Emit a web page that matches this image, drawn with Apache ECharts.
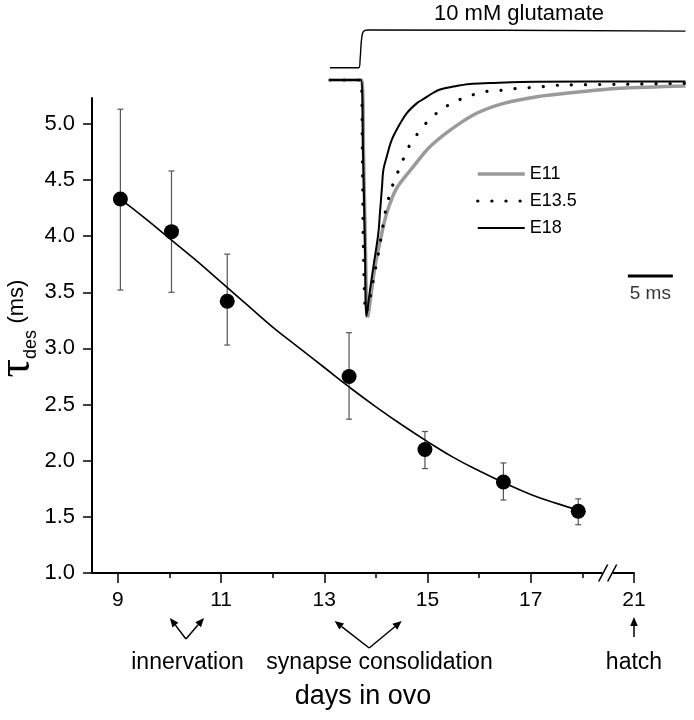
<!DOCTYPE html>
<html><head><meta charset="utf-8">
<script src="https://cdn.jsdelivr.net/npm/echarts@6/dist/echarts.min.js"></script>
<style>html,body{margin:0;padding:0;background:#fff}#c{width:694px;height:720px}</style>
</head><body><div id="c"></div>
<script>
// ---- main plot data ----
const days     = [9.05, 10.04, 11.12, 13.48, 14.95, 16.47, 17.92];
const tauMean  = [4.33, 4.04, 3.42, 2.75, 2.10, 1.81, 1.55];
const tauHigh  = [5.13, 4.58, 3.84, 3.14, 2.26, 1.98, 1.66];
const tauLow   = [3.52, 3.50, 3.03, 2.37, 1.93, 1.65, 1.43];
const fitDays  = [9.05, 9.5, 10, 10.5, 11, 11.5, 12, 12.5, 13, 13.5, 14, 14.5, 15, 15.5, 16, 16.5, 17, 17.5, 17.92];
const fitTau   = [4.33, 4.17, 3.98, 3.79, 3.59, 3.39, 3.19, 3.01, 2.83, 2.65, 2.48, 2.32, 2.17, 2.03, 1.91, 1.80, 1.70, 1.62, 1.56];
const yTicks   = [1.0, 1.5, 2.0, 2.5, 3.0, 3.5, 4.0, 4.5, 5.0];
const xMajorTicks = [9, 11, 13, 15, 17, 19];          // 19 sits after the axis break
const xTickLabels = ['9', '11', '13', '15', '17', '21'];
const xMinorTicks = [10, 12, 14, 16, 18];
const annotLabels = ['innervation', 'synapse consolidation', 'hatch'];

// ---- inset data (time in ms, current normalised to peak) ----
const stimT = [0, 3.2, 3.35, 3.5, 3.7, 4.2, 39.5];
const stimV = [0.052, 0.052, 0.09, 0.17, 0.205, 0.212, 0.207];
const e11T = [0, 3.5, 3.72, 3.94, 4.17, 4.63, 5.0, 5.56, 6.3, 7.41, 9.26, 11.1, 13.7, 16.3, 19.3, 23.0, 26.7, 32.2, 39.5];
const e11V = [0, 0, -0.297, -0.72, -1.008, -0.89, -0.791, -0.685, -0.565, -0.458, -0.367, -0.283, -0.203, -0.141, -0.099, -0.071, -0.054, -0.035, -0.025];
const e135T = [0, 3.44, 3.59, 3.72, 4.0, 4.44, 4.81, 5.37, 6.19, 6.67, 7.22, 7.89, 8.59, 9.63, 10.81, 12.3, 13.89, 15.48, 17.03, 18.7, 20.37, 22.03, 23.7, 25.37, 32.2, 39.5];
const e135V = [0, 0, -0.297, -0.72, -0.987, -0.925, -0.847, -0.737, -0.551, -0.48, -0.419, -0.36, -0.294, -0.233, -0.177, -0.127, -0.092, -0.068, -0.05, -0.045, -0.037, -0.033, -0.028, -0.022, -0.018, -0.014];
const e18T = [0, 3.44, 3.67, 3.89, 4.06, 4.44, 4.89, 5.37, 5.56, 5.78, 5.93, 6.3, 6.86, 7.59, 8.52, 9.63, 10.37, 11.48, 12.22, 13.67, 15.56, 17.78, 21.1, 28.9, 39.5];
const e18V = [0, 0, -0.297, -0.72, -1.0, -0.89, -0.774, -0.65, -0.559, -0.453, -0.381, -0.325, -0.254, -0.198, -0.141, -0.099, -0.081, -0.054, -0.04, -0.028, -0.017, -0.013, -0.008, -0.006, -0.006];
const scaleBarMs = [33.1, 38.1];
const scaleBarLevel = -0.83;

const FONT = "'Liberation Sans', Arial, Helvetica, sans-serif";
const zip = (a, b) => a.map((v, i) => [v, b[i]]);

const chart = echarts.init(document.getElementById('c'), null, {renderer: 'canvas'});

const option = {
  animation: false,
  backgroundColor: '#fff',
  textStyle: {fontFamily: FONT, color: '#000'},
  grid: [
    {left: 92, right: 60, top: 98, bottom: 147, outerBoundsMode: 'none', containLabel: false},
    {left: 330, width: 356, top: 21, height: 295, outerBoundsMode: 'none', containLabel: false}
  ],
  xAxis: [
    {
      type: 'value', gridIndex: 0, min: 8.5, max: 19, position: 'bottom',
      axisLine: {show: true, onZero: false, lineStyle: {color: '#000', width: 2}},
      axisTick: {show: true, length: 10, lineStyle: {color: '#000', width: 1.5}, customValues: xMajorTicks},
      axisLabel: {show: true, margin: 17, fontSize: 21, fontFamily: FONT, color: '#000',
        customValues: xMajorTicks,
        formatter: v => xTickLabels[xMajorTicks.indexOf(Math.round(v))] || ''},
      splitLine: {show: false},
      name: 'days in ovo', nameLocation: 'middle', nameGap: 110, nameMoveOverlap: false,
      nameTextStyle: {fontSize: 27, fontFamily: FONT, color: '#000'}
    },
    {
      type: 'value', gridIndex: 0, min: 8.5, max: 19, position: 'bottom',
      axisLine: {show: false, onZero: false},
      axisTick: {show: true, length: 5, lineStyle: {color: '#000', width: 1.5}, customValues: xMinorTicks},
      axisLabel: {show: false},
      splitLine: {show: false}
    },
    {type: 'value', gridIndex: 1, min: 0, max: 39.56, show: false}
  ],
  yAxis: [
    {
      type: 'value', gridIndex: 0, min: 1, max: 5.23,
      axisLine: {show: true, onZero: false, lineStyle: {color: '#000', width: 2}},
      axisTick: {show: true, length: 9, lineStyle: {color: '#000', width: 1.5}, customValues: yTicks},
      axisLabel: {show: true, margin: 17, fontSize: 22, fontFamily: FONT, color: '#000',
        customValues: yTicks, formatter: v => v.toFixed(1)},
      splitLine: {show: false},
      name: '{t|τ}{s|des} {m|(ms)}', nameLocation: 'middle', nameRotate: 90, nameGap: 52,
      nameMoveOverlap: false,
      nameTextStyle: {
        color: '#000', padding: [0, 0, 0, 14],
        rich: {
          t: {fontSize: 46, fontFamily: "'Liberation Serif', 'DejaVu Serif', serif", color: '#000'},
          s: {fontSize: 18, fontFamily: FONT, color: '#000', verticalAlign: 'bottom', padding: [16, 3, 0, 0]},
          m: {fontSize: 22, fontFamily: FONT, color: '#000'}
        }
      }
    },
    {type: 'value', gridIndex: 1, min: -1, max: 0.25, show: false}
  ],
  legend: {
    show: true, orient: 'vertical', left: 476, top: 165, padding: 0, itemWidth: 47, itemHeight: 14, itemGap: 9,
    itemStyle: {opacity: 0}, lineStyle: {width: 'inherit'},
    textStyle: {fontSize: 18, fontFamily: FONT, color: '#000'},
    data: ['E11', 'E13.5', 'E18'], selectedMode: false
  },
  series: [
    {
      name: 'error', type: 'custom', xAxisIndex: 0, yAxisIndex: 0,
      data: days.map((d, i) => [d, tauLow[i], tauHigh[i]]),
      renderItem: (params, api) => {
        const x = api.value(0);
        const p1 = api.coord([x, api.value(2)]);
        const p2 = api.coord([x, api.value(1)]);
        const w = 3;
        const st = {stroke: '#555', lineWidth: 1.2};
        return {type: 'group', children: [
          {type: 'line', shape: {x1: p1[0], y1: p1[1], x2: p2[0], y2: p2[1]}, style: st},
          {type: 'line', shape: {x1: p1[0] - w, y1: p1[1], x2: p1[0] + w, y2: p1[1]}, style: st},
          {type: 'line', shape: {x1: p2[0] - w, y1: p2[1], x2: p2[0] + w, y2: p2[1]}, style: st}
        ]};
      },
      z: 1
    },
    {
      name: 'fit', type: 'line', xAxisIndex: 0, yAxisIndex: 0, data: zip(fitDays, fitTau),
      smooth: true, symbol: 'none', lineStyle: {color: '#000', width: 1.6}, z: 2
    },
    {
      name: 'tau', type: 'scatter', xAxisIndex: 0, yAxisIndex: 0, data: zip(days, tauMean),
      symbol: 'circle', symbolSize: 15, itemStyle: {color: '#000', opacity: 1}, z: 3
    },
    {
      name: 'stimulus', type: 'line', xAxisIndex: 2, yAxisIndex: 1, data: zip(stimT, stimV),
      smooth: 0.3, symbol: 'none', lineStyle: {color: '#000', width: 1.4}
    },
    {
      name: 'E11', type: 'line', xAxisIndex: 2, yAxisIndex: 1, data: zip(e11T, e11V),
      smooth: 0.3, symbol: 'none', lineStyle: {color: '#9a9a9a', width: 3.5}, itemStyle: {color: '#9a9a9a'}
    },
    {
      name: 'E13.5', type: 'line', xAxisIndex: 2, yAxisIndex: 1, data: zip(e135T, e135V),
      smooth: 0.3, symbol: 'none',
      lineStyle: {color: '#000', width: 3.2, type: [0.1, 14], cap: 'round'}, itemStyle: {color: '#000'}
    },
    {
      name: 'E18', type: 'line', xAxisIndex: 2, yAxisIndex: 1, data: zip(e18T, e18V),
      smooth: 0.35, symbol: 'none', lineStyle: {color: '#000', width: 2}, itemStyle: {color: '#000'}
    },
    {
      name: 'scalebar', type: 'line', xAxisIndex: 2, yAxisIndex: 1,
      data: scaleBarMs.map(t => [t, scaleBarLevel]), symbol: 'none',
      lineStyle: {color: '#000', width: 3}
    },
    {
      name: 'scalebarLabel', type: 'scatter', xAxisIndex: 2, yAxisIndex: 1,
      data: [[(scaleBarMs[0] + scaleBarMs[1]) / 2, scaleBarLevel]], symbolSize: 0,
      label: {show: true, position: 'bottom', distance: 8, formatter: '5 ms', fontSize: 19, fontFamily: FONT, color: '#000'}
    }
  ]
};
chart.setOption(option);

// ---- annotations below the axis, break marks and inset title ----
const xp = v => chart.convertToPixel({xAxisIndex: 0}, v);
const axisY = chart.convertToPixel({yAxisIndex: 0}, 1.0);

function arrow(x1, y1, x2, y2) {
  const ang = Math.atan2(y2 - y1, x2 - x1), L = 9, W = 3.8;
  const bx = x2 - L * Math.cos(ang), by = y2 - L * Math.sin(ang);
  const nx = -Math.sin(ang) * W, ny = Math.cos(ang) * W;
  return [
    {type: 'line', silent: true, shape: {x1, y1, x2: bx, y2: by}, style: {stroke: '#000', lineWidth: 1.5}},
    {type: 'polygon', silent: true, shape: {points: [[x2, y2], [bx + nx, by + ny], [bx - nx, by - ny]]}, style: {fill: '#000'}}
  ];
}
const annot = [
  {label: annotLabels[0], at: 10.35, tail: [10.32, 66], heads: [[10.01, 45], [10.67, 45]]},
  {label: annotLabels[1], at: 14.07, tail: [13.87, 75], heads: [[13.2, 48], [14.5, 48]]},
  {label: annotLabels[2], at: 19, tail: [19, 64], heads: [[19, 44]]}
];
const g = [];
annot.forEach(a => {
  a.heads.forEach(h => g.push(...arrow(xp(a.tail[0]), axisY + a.tail[1], xp(h[0]), axisY + h[1])));
  g.push({type: 'text', silent: true, x: xp(a.at), y: axisY + 90,
    style: {text: a.label, fontSize: 23, fontFamily: FONT, fill: '#000', textAlign: 'center', textVerticalAlign: 'middle'}});
});
// axis break
const bx = xp(18.49);
g.push({type: 'rect', silent: true, shape: {x: bx - 5, y: axisY - 3, width: 10, height: 6}, style: {fill: '#fff'}, z: 100});
[-4.5, 4.5].forEach(d => g.push({type: 'line', silent: true, z: 101,
  shape: {x1: bx + d - 4.5, y1: axisY + 8.5, x2: bx + d + 4.5, y2: axisY - 8.5}, style: {stroke: '#000', lineWidth: 1.6}}));
// inset title
g.push({type: 'text', silent: true, x: 519, y: 14,
  style: {text: '10 mM glutamate', fontSize: 22, fontFamily: FONT, fill: '#000', textAlign: 'center', textVerticalAlign: 'middle'}});
chart.setOption({graphic: g});
</script></body></html>
